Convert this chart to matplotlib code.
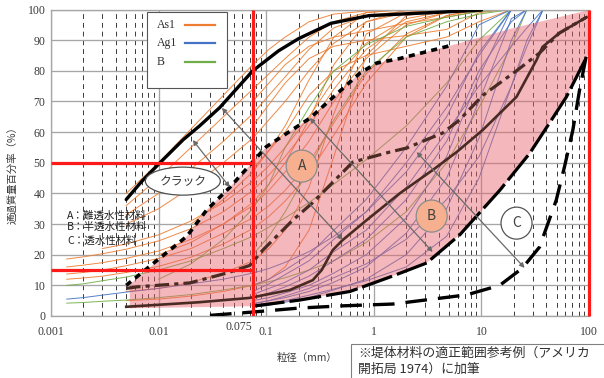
import numpy as np
import matplotlib
matplotlib.use("Agg")
import matplotlib.pyplot as plt
from matplotlib.patches import Ellipse, Rectangle
from matplotlib.lines import Line2D
from matplotlib.ticker import LogLocator, NullFormatter

plt.rcParams['font.family'] = ['Noto Sans CJK JP', 'DejaVu Sans']
SERIF = ['Liberation Serif', 'DejaVu Serif']

n = np.nan

# ---- sieve sizes (mm) shared by all gradation curves ----
SIEVE = [0.0014, 0.002, 0.003, 0.005, 0.01, 0.02, 0.04, 0.075, 0.106, 0.15,
         0.25, 0.425, 0.85, 2.0, 4.75, 9.5, 19.0, 26.5, 37.5]

# percent passing, As1 samples
AS1 = [
    [n, n, 22, 23.5, 26.5, 31, 37, 44, 49, 55, 65, 77, 89, 97, 99.5, 100, n, n, n],
    [18.6, 19.3, 20.3, 21.8, 24.5, 28.5, 34, 41, 46, 52, 62, 74, 87, 96, 99, 100, n, n, n],
    [16, 16.6, 17.4, 18.8, 21.2, 25, 30, 36, 41, 47, 57, 70, 84, 95, 99, 100, n, n, n],
    [13.7, 14.2, 15, 16.4, 18.8, 22, 27, 32, 36, 41, 50, 63, 79, 92, 98, 100, n, n, n],
    [12, 12.4, 13, 14.2, 16.2, 19.2, 23.5, 28.5, 32.5, 37.5, 46.5, 59, 76, 91, 98, 100, n, n, n],
    [n, n, n, 40, 50, 61, 72, 82, 87, 91, 96, 98.5, 99.5, 100, n, n, n, n, n],
    [n, n, n, 36, 45, 55, 65, 74, 79, 84, 91, 96, 99, 100, n, n, n, n, n],
    [n, n, n, 33, 40, 48, 57, 66, 72, 78, 87, 94, 98, 99.5, 100, n, n, n, n],
    [n, n, n, 30, 35, 42, 50, 58, 64, 70, 80, 89, 96, 99, 100, n, n, n, n],
    [n, n, n, 5, 5.5, 6.5, 8, 10, 12, 16, 28, 52, 85, 98, 100, n, n, n, n],
    [n, n, n, 8, 9, 11, 14, 18, 22, 28, 42, 66, 92, 99, 100, n, n, n, n],
    [n, n, n, n, 20, 24, 30, 37, 43, 50, 64, 82, 96, 100, n, n, n, n, n],
    [n, n, n, n, n, 30, 38, 47, 54, 62, 77, 91, 99, 100, n, n, n, n, n],
    [n, n, n, n, n, n, n, 70, 76, 82, 88, 91, 93, 95.5, 97.5, 99.5, 100, n, n],
    [n, n, n, n, n, n, n, 62, 69, 76, 84, 88, 90, 91.5, 93.5, 99, 100, n, n],
    [n, n, n, n, n, n, n, 48, 54, 60, 72, 80, 85, 88, 91, 96, 100, n, n],
]

# percent passing, Ag1 samples
AG1 = [
    [n, n, n, n, n, n, n, 3, 3.5, 4.5, 6, 8.5, 12, 20, 35, 58, 90, 100, n],
    [n, n, n, n, n, n, n, 4, 5, 6, 8, 11, 16, 27, 45, 70, 97, 100, n],
    [n, n, n, n, n, n, n, 5, 6, 7.5, 10, 14, 20, 32, 52, 78, 100, n, n],
    [n, n, n, n, n, n, n, 6, 7.5, 9.5, 13, 18, 25, 38, 57, 80, 96, 100, n],
    [n, n, n, n, n, n, n, 7, 9, 11, 15, 21, 28, 42, 60, 75, 88, 94, 100],
    [n, n, n, n, n, n, n, 4, 5, 6.5, 9, 12.5, 17, 25, 38, 52, 75, 88, 100],
    [n, n, n, n, n, n, n, 8, 10.5, 13.5, 18, 25, 34, 50, 68, 85, 100, n, n],
    [5.5, 6, 6.8, 7.8, 9, 10.5, 12, 14, 15.5, 17.5, 21, 26, 34, 47, 65, 86, 100, n, n],
    [n, n, n, n, n, n, n, 3.5, 4.2, 5, 6.8, 8.8, 11.5, 16, 26, 45, 75, 90, 100],
    [n, n, n, n, n, n, n, 10, 12, 15, 20, 28, 38, 55, 75, 95, 100, n, n],
]

# percent passing, B samples
B_SAMPLES = [
    [4.2, 4.4, 4.8, 5.2, 6, 7, 8.5, 10, 11.2, 12.5, 15, 18, 24, 34, 50, 68, 88, 100, n],
    [10, 10.5, 11.5, 12.7, 15, 18, 22, 26, 29, 32, 37, 43, 51, 62, 76, 90, 100, n, n],
    [n, n, n, n, 12, 17, 25, 35, 43, 55, 68, 80, 88.5, 94.5, 97.5, 99.3, 100, n, n],
    [n, n, n, n, n, n, n, 20, 26, 34, 48, 64, 80, 91, 96, 98.5, 100, n, n],
]

# ---- recommended range boundaries ----
A_UPPER_D = [0.005, 0.007, 0.0103, 0.0169, 0.024, 0.037, 0.075, 0.13, 0.2, 0.4, 0.9, 3.5, 10]
A_UPPER_P = [38, 44, 50, 57.5, 62, 68, 80, 86.5, 90.5, 95.5, 98, 99, 99.8]

A_LOWER_D = [0.005, 0.024, 0.07, 0.166, 0.271, 0.328, 0.415, 0.514, 0.859, 1.74,
             3.52, 5.89, 10.3, 21.2, 32.5, 37, 53, 95]
A_LOWER_P = [3, 4.5, 5.9, 8.5, 11.7, 15, 21.5, 24.8, 31.3, 40, 47.6, 53.5, 60.7,
             71.5, 83.5, 87.8, 92.3, 97.5]

B_UPPER_D = [0.005, 0.0183, 0.028, 0.046, 0.1, 0.254, 0.74, 1.06, 1.74, 5.4]
B_UPPER_P = [10, 26, 34.6, 42, 55.2, 64.5, 79.2, 82.5, 84, 88.4]

B_LOWER_D = [0.075, 0.205, 0.6, 1.41, 3.1, 6.3, 14.8, 28, 43, 61.7, 95]
B_LOWER_P = [3.2, 5.2, 8, 12.7, 17.3, 26.5, 41, 53, 63, 71.5, 84.5]

C_UPPER_D = [0.005, 0.0063, 0.0195, 0.043, 0.0704, 0.093, 0.177, 0.271, 0.637, 1.41,
             2.02, 4.36, 6.28, 10.3, 21.2, 34.7, 53, 95]
C_UPPER_P = [9, 9.5, 10.8, 14, 16.5, 21.5, 31.3, 37, 50.2, 53.5, 54.8, 59.7, 64, 72,
             80, 85.8, 92.3, 97.5]

C_LOWER_D = [0.03, 0.075, 0.205, 0.5, 1.5, 5.07, 7.3, 14.8, 24, 34.7, 49.6, 59.2,
             70.8, 81.7, 94]
C_LOWER_P = [0.2, 1.3, 2.6, 3.3, 3.9, 6.2, 6.9, 10, 15.6, 22.5, 37.8, 48.7, 60.7,
             73.7, 84.6]

# shaded B band outline
BAND_LOWER_D = [0.0054] + B_LOWER_D + [100]
BAND_LOWER_P = [2.5] + B_LOWER_P + [86]
BAND_UPPER_D = [0.0054] + B_UPPER_D[1:] + [20, 100]
BAND_UPPER_P = [10.3] + B_UPPER_P[1:] + [94, 99.8]

FINES_LIMIT = 0.075
REF_LEVELS = [50, 15]

X_TICKS = [0.001, 0.01, 0.1, 1, 10, 100]
X_TICK_LABELS = ['0.001', '0.01', '0.1', '1', '10', '100']
Y_TICKS = list(range(0, 101, 10))

ORANGE = '#ED7D31'
BLUE = '#4472C4'
GREEN = '#70AD47'
BROWN = '#4a2b24'
RED = '#ff1a1a'
GRAY_TXT = '#3a3a3a'

# ---- figure ----
W, H = 604, 378
fig = plt.figure(figsize=(W / 100, H / 100), dpi=100)
ax = fig.add_axes([51 / W, 1 - 316 / H, 538 / W, 306.5 / H])
ax.set_xscale('log')
ax.set_xlim(0.001, 100)
ax.set_ylim(0, 100)

ax.set_xticks(X_TICKS)
ax.set_xticklabels(X_TICK_LABELS)
ax.xaxis.set_minor_locator(LogLocator(base=10, subs=np.arange(2, 10)))
ax.xaxis.set_minor_formatter(NullFormatter())
ax.set_yticks(Y_TICKS)
ax.tick_params(which='both', length=0)
ax.tick_params(axis='x', pad=7, labelsize=8.5, labelcolor=GRAY_TXT, labelfontfamily=SERIF[0])
ax.tick_params(axis='y', pad=4, labelsize=8.5, labelcolor=GRAY_TXT, labelfontfamily=SERIF[0])
ax.grid(which='major', color='#a6a6a6', lw=0.95)
ax.grid(which='minor', axis='x', color='#3a3a3a', lw=0.7, linestyle=(0, (5, 4)))
ax.set_axisbelow(True)
for s in ['left', 'bottom', 'top']:
    ax.spines[s].set_color('#a6a6a6')
    ax.spines[s].set_linewidth(0.95)
ax.spines['right'].set_visible(False)

# gradation curves
sieve = np.array(SIEVE)
for rows, col in [(AS1, ORANGE), (B_SAMPLES, GREEN), (AG1, BLUE)]:
    for row in rows:
        p = np.array(row, dtype=float)
        m = ~np.isnan(p)
        ax.plot(sieve[m], p[m], color=col, lw=0.7, alpha=0.9, zorder=1.5)

# shaded band
ax.fill(BAND_LOWER_D + BAND_UPPER_D[::-1], BAND_LOWER_P + BAND_UPPER_P[::-1],
        facecolor='#e8606a', alpha=0.45, lw=0, zorder=2)

# range boundaries
ax.plot(A_UPPER_D, A_UPPER_P, color='black', lw=2.4, zorder=3, solid_capstyle='round')
ax.plot(A_LOWER_D, A_LOWER_P, color=BROWN, lw=1.9, zorder=3)
ax.plot(B_UPPER_D, B_UPPER_P, color='black', lw=2.6, zorder=3, linestyle=(0, (1.7, 1.5)))
ax.plot(B_LOWER_D, B_LOWER_P, color='black', lw=2.3, zorder=3, linestyle=(0, (10, 1.6)))
ax.plot(C_UPPER_D, C_UPPER_P, color=BROWN, lw=2.3, zorder=3,
        linestyle=(0, (4.5, 1.6, 1.3, 1.6)))
ax.plot(C_LOWER_D, C_LOWER_P, color='black', lw=2.4, zorder=3, linestyle=(0, (6.5, 3.3)))

# fines limit and reference levels
ax.hlines(REF_LEVELS, 0.001, FINES_LIMIT, color=RED, lw=2.3, zorder=4)
ax.vlines(FINES_LIMIT, 0, 100, color=RED, lw=2.3, zorder=4)
ax.vlines(100, 0, 100, color=RED, lw=2.3, zorder=4, clip_on=False)
ax.annotate('0.075', xy=(FINES_LIMIT, 0), xycoords=('data', 'axes fraction'),
            xytext=(-14, -11), textcoords='offset pixels', ha='center', va='center',
            fontsize=8.5, family=SERIF, color=GRAY_TXT)

# range arrows
ARROWS = [((0.0208, 57.4), (0.0459, 42.0)),
          ((0.0387, 67.9), (0.514, 24.8)),
          ((0.254, 64.6), (3.52, 20.9)),
          ((2.5, 53.5), (25.2, 15.7))]
for (p0, p1) in ARROWS:
    ax.annotate('', xy=p1, xytext=p0,
                arrowprops=dict(arrowstyle='<|-|>', color='#6a6a6a', lw=0.9,
                                mutation_scale=7, shrinkA=0, shrinkB=0), zorder=3.5)

fig.canvas.draw()
to_axes = ax.transData + ax.transAxes.inverted()
axw, axh = 538.0, 306.5

# crack label
cx, cy = to_axes.transform((0.0168, 44.0))
ax.add_patch(Ellipse((cx, cy), 75 / axw, 28 / axh, transform=ax.transAxes,
                     fc='white', ec='#505050', lw=0.9, zorder=5))
ax.text(cx, cy, 'クラック', transform=ax.transAxes, ha='center', va='center',
        fontsize=8.5, color='#303030', zorder=6)

# zone markers
for lab, pos, fc, ec in [('A', (0.214, 48.9), '#f6b08f', '#8c8c8c'),
                         ('B', (3.45, 32.6), '#f6b08f', '#8c8c8c'),
                         ('C', (21.2, 30.3), 'white', '#555555')]:
    fx, fy = to_axes.transform(pos)
    ax.add_patch(Ellipse((fx, fy), 31 / axw, 32 / axh, transform=ax.transAxes,
                         fc=fc, ec=ec, lw=0.9, zorder=5))
    ax.text(fx, fy, lab, transform=ax.transAxes, ha='center', va='center',
            fontsize=10, color='#404040', zorder=6)

# zone descriptions
for txt, yv in [('A：難透水性材料', 32.7), ('B：半透水性材料', 29.1), ('C：透水性材料', 24.5)]:
    ax.text(0.00141, yv, txt, ha='left', va='center', fontsize=7.6, color='#202020', zorder=5)

# legend box
lx0, ly0 = (146.7 - 51) / axw, (316 - 88.3) / axh
ax.add_patch(Rectangle((lx0, ly0), 80 / axw, 76.6 / axh, transform=ax.transAxes,
                       fc='white', ec='#555555', lw=0.8, zorder=6))
for lab, col, ypx in [('As1', ORANGE, 24.5), ('Ag1', BLUE, 43.3), ('B', GREEN, 62.0)]:
    fy = (316 - ypx) / axh
    ax.text((157 - 51) / axw, fy, lab, transform=ax.transAxes, ha='left', va='center',
            fontsize=8.5, family=SERIF, color='#303030', zorder=7)
    ax.add_line(Line2D([(185 - 51) / axw, (215 - 51) / axw], [fy, fy], transform=ax.transAxes,
                       color=col, lw=1.6, zorder=7))

# axis titles
fig.text(12 / W, 1 - 173 / H, '通過質量百分率（%）', rotation=90, ha='center', va='center',
         fontsize=7.5, color=GRAY_TXT)
fig.text(307 / W, 1 - 358 / H, '粒径（mm）', ha='center', va='center', fontsize=7.5,
         color=GRAY_TXT)

# source note
fig.patches.append(Rectangle((351 / W, -0.05), 0.5, (378 - 344) / H + 0.05,
                             transform=fig.transFigure, fc='white', ec='#808080', lw=0.8))
fig.text(358 / W, 1 - 353 / H, '※堤体材料の適正範囲参考例（アメリカ', ha='left', va='center',
         fontsize=9.3, color='#303030')
fig.text(358 / W, 1 - 369 / H, '開拓局 1974）に加筆', ha='left', va='center',
         fontsize=9.3, color='#303030')

fig.savefig('out.png', dpi=100)
